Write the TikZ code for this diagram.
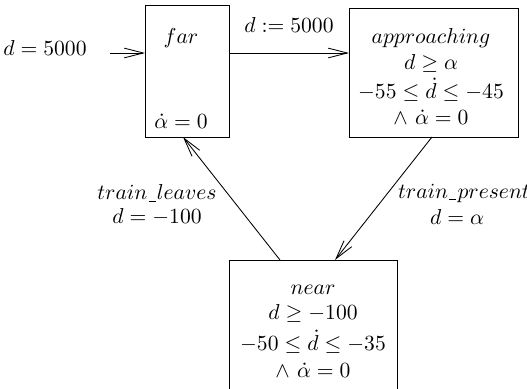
\documentclass[tikz,border=0pt]{standalone}
\usetikzlibrary{arrows.meta,calc}
\newcommand{\us}{\kern0.06em\rule[-0.25ex]{0.32em}{0.4pt}\kern0.06em}
\begin{document}
\begin{tikzpicture}[x=0.463pt,y=-0.463pt,
  box/.style={draw,anchor=north west,inner sep=0pt,outer sep=0pt},
  lbl/.style={inner sep=0pt},
  arr/.style={-{Straight Barb[length=8.8pt,width=4.5pt]},line width=0.4pt}]
\clip (0,0) rectangle (527,389);
% boxes
\node[box,minimum width=84*0.463pt,minimum height=132*0.463pt] (far) at (145,5) {};
\node[box,minimum width=169*0.463pt,minimum height=129*0.463pt] (app) at (349,8) {};
\node[box,minimum width=168*0.463pt,minimum height=150*0.463pt] (near) at (229,260) {};
% texts in boxes
\node[lbl] (farname) at (181,38) {$far$};
\node[lbl] (farinv) at (181,121) {$\dot\alpha = 0$};
\node[lbl] (appname) at (431,38) {$approaching$};
\node[lbl] (appa) at (431,63) {$d \geq \alpha$};
\node[lbl] (appb) at (431,90) {$-55 \leq \dot d \leq -45$};
\node[lbl] (appc) at (431,117) {$\wedge\ \dot\alpha = 0$};
\node[lbl] (nearname) at (313,290) {$near$};
\node[lbl] (neara) at (313,313) {$d \geq -100$};
\node[lbl] (nearb) at (313,342) {$-50 \leq \dot d \leq -35$};
\node[lbl] (nearc) at (313,370) {$\wedge\ \dot\alpha = 0$};
% labels
\node[lbl] (init) at (45,48) {$d = 5000$};
\node[lbl] (reset) at (289,25) {$d := 5000$};
\node[lbl] (tl1) at (157,193) {$train\us leaves$};
\node[lbl] (tl2) at (157,217) {$d = -100$};
\node[lbl] (tp1) at (464,193) {$train\us present$};
\node[lbl] (tp2) at (457,217) {$d = \alpha$};
% connector end points
\coordinate (start) at (110,53);
\coordinate (farin) at ($(far.north west)+(0,48)$);
\coordinate (farout) at ($(far.north east)+(0,48)$);
\coordinate (appin) at ($(app.north west)+(0,45)$);
\coordinate (farbot) at ($(far.south west)+(38,0)$);
\coordinate (appbot) at ($(app.south west)+(83,0)$);
\coordinate (neartopl) at ($(near.north west)+(51,0)$);
\coordinate (neartopr) at ($(near.north west)+(106,0)$);
% connectors
\draw[arr] (start) -- (farin);
\draw[arr] (farout) -- (appin);
\draw[arr] (appbot) -- (neartopr);
\draw[arr] (neartopl) -- (farbot);
\end{tikzpicture}
\end{document}
